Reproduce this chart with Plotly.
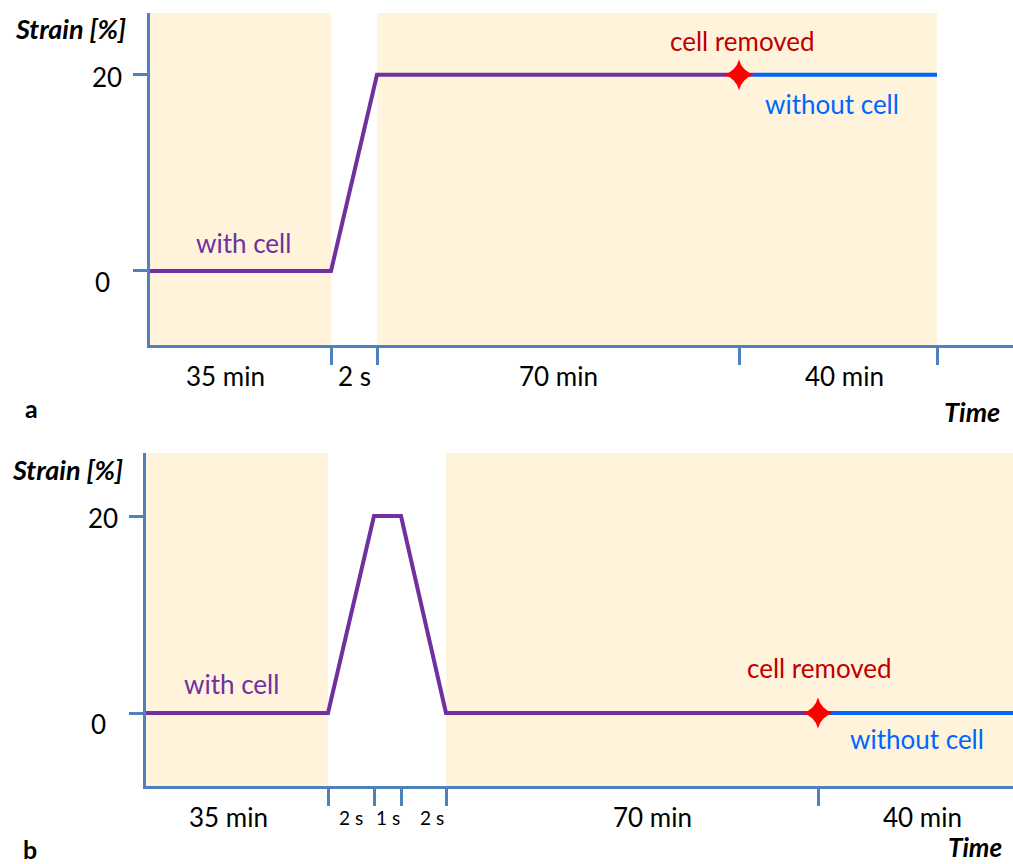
import numpy as np
import plotly.graph_objects as go

# ---------------- data ----------------
# panel a: time segments, their schematic widths on the axis, strain [%] at end of each segment (start = 0)
seg_labels_a = ["35 min", "2 s", "70 min", "40 min"]
seg_widths_a = [181, 46, 362, 198]
strain_end_a = [0, 20, 20, 20]
axis_len_a = 863

# panel b
seg_labels_b = ["35 min", "2 s", "1 s", "2 s", "70 min", "40 min"]
seg_widths_b = [182, 46, 27, 45, 372, 195]
strain_end_b = [0, 20, 20, 0, 0, 0]
axis_len_b = 867

y_ticks = [0, 20]
y_tick_labels = ["0", "20"]

# ---------------- style ----------------
W, H = 1013, 864
FONT = "Lato"
AX = "#4F81BD"
PURPLE = "#7030A0"
BLUE = "#0066FF"
DRED = "#C00000"
SHADE = "#FFF4DB"


def px(x):
    return x / W


def py(y):
    return 1 - y / H


fig = go.Figure()

panels = [
    dict(labels=seg_labels_a, widths=seg_widths_a, strain=strain_end_a, alen=axis_len_a,
         xa="x", ya="y", xdom=[px(150), 1.0], ydom=[py(345), py(13)], yr=[-7.55, 26.3],
         lab_shift=[-15, 0, 0, 6], last_tick=True),
    dict(labels=seg_labels_b, widths=seg_widths_b, strain=strain_end_b, alen=axis_len_b,
         xa="x2", ya="y2", xdom=[px(146), 1.0], ydom=[py(786), py(453)], yr=[-7.41, 26.4],
         lab_shift=[-9, 0, 0, 8, 20, 7], last_tick=False),
]

annotations = []
shapes = []

for i, p in enumerate(panels):
    bounds = np.concatenate([[0], np.cumsum(p["widths"])])
    xs = bounds
    ys = np.concatenate([[0], p["strain"]])
    n = len(p["labels"])
    rem = n - 1  # cell removed at start of last segment
    # shading for the long (minutes) segments
    for k, lab in enumerate(p["labels"]):
        if lab.endswith("min"):
            x1 = bounds[k + 1] if k < n - 1 or p["last_tick"] else p["alen"]
            shapes.append(dict(type="rect", xref=p["xa"], yref=p["ya"] + " domain",
                               x0=bounds[k], x1=x1, y0=0, y1=1,
                               fillcolor=SHADE, line=dict(width=0), layer="below"))
    # purple with-cell line
    fig.add_trace(go.Scatter(x=xs[:rem + 1], y=ys[:rem + 1], mode="lines",
                             line=dict(color=PURPLE, width=4), xaxis=p["xa"], yaxis=p["ya"],
                             showlegend=False, hoverinfo="skip"))
    # blue without-cell line
    xb = list(xs[rem:])
    if not p["last_tick"]:
        xb[-1] = p["alen"]
    fig.add_trace(go.Scatter(x=xb, y=ys[rem:], mode="lines",
                             line=dict(color=BLUE, width=4), xaxis=p["xa"], yaxis=p["ya"],
                             showlegend=False, hoverinfo="skip"))
    # removal star
    fig.add_trace(go.Scatter(x=[xs[rem]], y=[ys[rem]], mode="markers",
                             marker=dict(symbol="star-diamond", size=22, color="#FF0000",
                                         line=dict(width=0)),
                             xaxis=p["xa"], yaxis=p["ya"], showlegend=False, hoverinfo="skip"))
    # segment labels
    for k, lab in enumerate(p["labels"]):
        small = lab.endswith(" s") and i == 1
        annotations.append(dict(x=(bounds[k] + bounds[k + 1]) / 2, xref=p["xa"],
                                y=p["ydom"][0], yref="paper", yshift=-31,
                                xshift=p["lab_shift"][k], text=lab, showarrow=False,
                                font=dict(family=FONT, size=19 if small else 26, color="black"),
                                xanchor="center", yanchor="middle"))
    ticks = list(bounds[1:]) if p["last_tick"] else list(bounds[1:-1])
    ax_suffix = "" if i == 0 else "2"
    fig.update_layout(**{
        "xaxis" + ax_suffix: dict(domain=p["xdom"], range=[0, p["alen"]], anchor=p["ya"],
                                  showline=True, linecolor=AX, linewidth=3, showgrid=False,
                                  zeroline=False, tickvals=ticks, ticks="outside", ticklen=17,
                                  tickwidth=2.5, tickcolor=AX, showticklabels=False,
                                  fixedrange=True),
        "yaxis" + ax_suffix: dict(domain=p["ydom"], range=p["yr"], anchor=p["xa"],
                                  showline=True, linecolor=AX, linewidth=3, showgrid=False,
                                  zeroline=False, tickvals=y_ticks, ticks="outside", ticklen=14,
                                  tickwidth=2.5, tickcolor=AX, showticklabels=False,
                                  fixedrange=True),
    })

# y tick labels
for p, (x20, x0) in zip(panels, [(107, 102), (103, 98)]):
    for v, t in zip(y_ticks, y_tick_labels):
        annotations.append(dict(x=px(x20 if v == 20 else x0), xref="paper", y=v, yref=p["ya"],
                                yshift=-2 if v == 20 else -11, text=t, showarrow=False,
                                font=dict(family=FONT, size=26, color="black"),
                                xanchor="center", yanchor="middle"))


def txt(x, y, t, size=25, color="black", bold=False, italic=False, anchor="center"):
    if bold:
        t = "<b>" + t + "</b>"
    if italic:
        t = "<i>" + t + "</i>"
    annotations.append(dict(x=px(x), y=py(y), xref="paper", yref="paper", text=t,
                            showarrow=False, xanchor=anchor, yanchor="middle",
                            font=dict(family=FONT, size=size, color=color)))


# panel a texts
txt(70, 28, "Strain [%]", 27, bold=True, italic=True)
txt(243, 243, "with cell", 26, PURPLE)
txt(742, 41, "cell removed", 26, DRED)
txt(832, 104, "without cell", 26, BLUE)
txt(32, 408, "a", 25, bold=True)
txt(972, 411, "Time", 27, bold=True, italic=True)
# panel b texts
txt(67, 469, "Strain [%]", 27, bold=True, italic=True)
txt(231, 684, "with cell", 26, PURPLE)
txt(819, 668, "cell removed", 26, DRED)
txt(917, 739, "without cell", 26, BLUE)
txt(30, 849, "b", 25, bold=True)
txt(975, 847, "Time", 26, bold=True, italic=True)

fig.update_layout(width=W, height=H, margin=dict(l=0, r=0, t=0, b=0),
                  paper_bgcolor="white", plot_bgcolor="white",
                  annotations=annotations, shapes=shapes, showlegend=False,
                  font=dict(family=FONT))

fig.write_html("out.html", config={"displayModeBar": False})
